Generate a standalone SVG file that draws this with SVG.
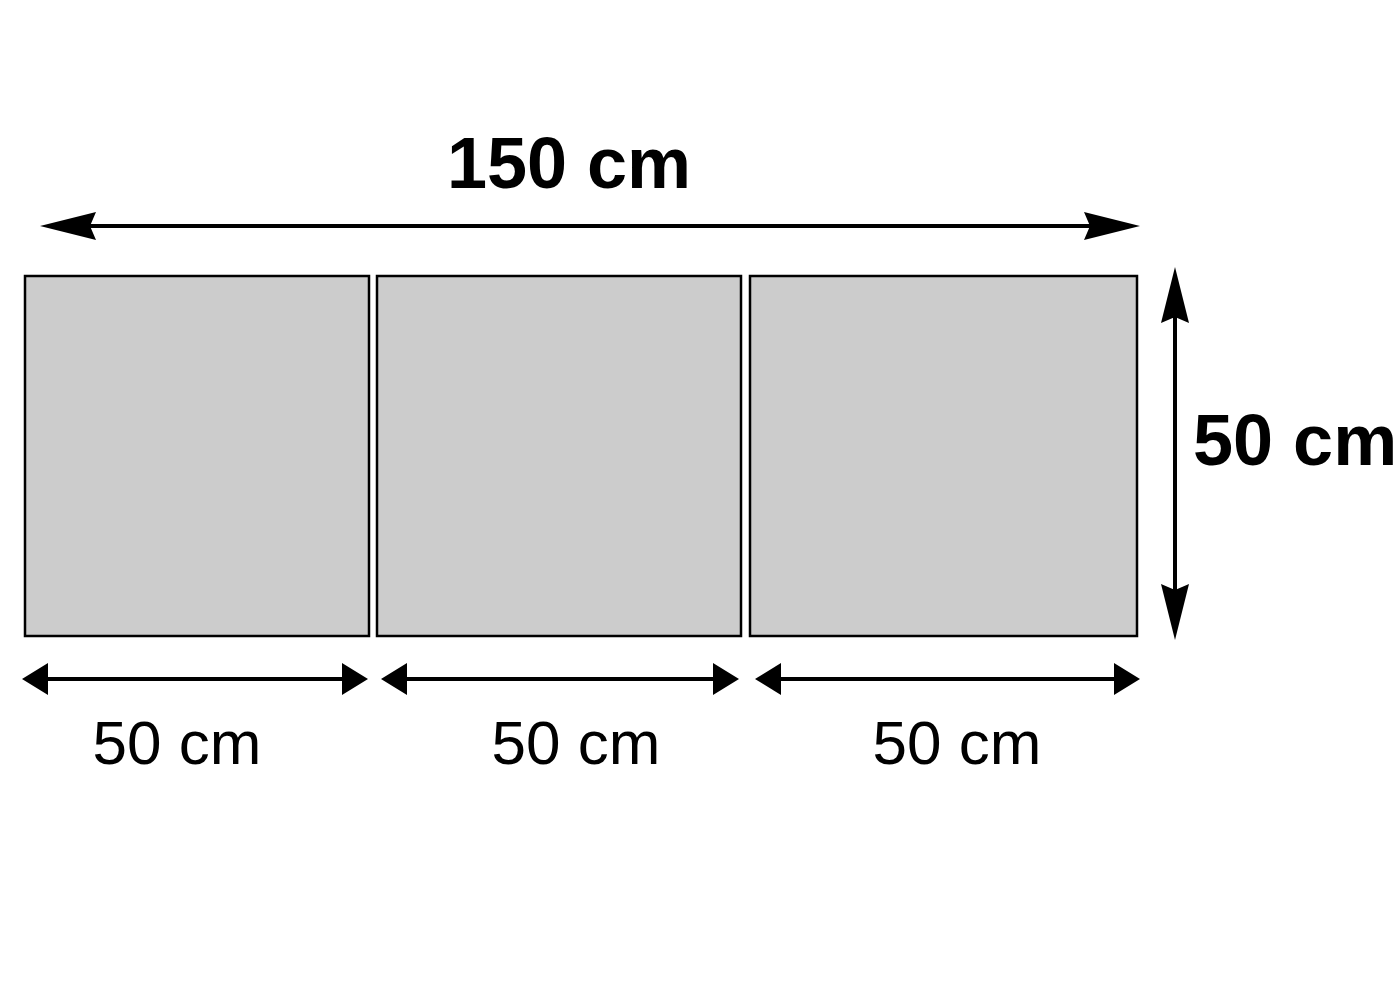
<svg xmlns="http://www.w3.org/2000/svg" width="1400" height="1000" viewBox="0 0 1400 1000">
  <style>
    .panel { fill: #cccccc; stroke: #000000; stroke-width: 2.5; }
    .dim { stroke: #000000; stroke-width: 4; fill: none; }
    .long { marker-start: url(#headLong); marker-end: url(#headLong); }
    .short { marker-start: url(#headShort); marker-end: url(#headShort); }
    .lblBold { font-family: "Liberation Sans", Arial, sans-serif; font-weight: bold; font-size: 72px; fill: #000000; }
    .lbl { font-family: "Liberation Sans", Arial, sans-serif; font-size: 62px; fill: #000000; }
  </style>
  <defs>
    <marker id="headLong" viewBox="0 0 56 28" refX="36" refY="14" markerWidth="56" markerHeight="28" markerUnits="userSpaceOnUse" orient="auto-start-reverse">
      <path d="M0,0 L56,14 L0,28 L6,14 Z" fill="#000000"/>
    </marker>
    <marker id="headShort" viewBox="0 0 26 32" refX="16" refY="16" markerWidth="26" markerHeight="32" markerUnits="userSpaceOnUse" orient="auto-start-reverse">
      <path d="M0,0 L26,16 L0,32 Z" fill="#000000"/>
    </marker>
  </defs>
  <rect width="1400" height="1000" fill="#ffffff"/>

  <g id="panel1"><rect class="panel" x="25" y="276" width="344" height="360"/></g>
  <g id="panel2"><rect class="panel" x="377" y="276" width="364" height="360"/></g>
  <g id="panel3"><rect class="panel" x="750" y="276" width="387" height="360"/></g>

  <g id="connectors">
    <line class="dim long" x1="60" y1="226" x2="1120" y2="226"/>
    <line class="dim long" x1="1175" y1="287" x2="1175" y2="620"/>
    <line class="dim short" x1="32" y1="679" x2="358" y2="679"/>
    <line class="dim short" x1="391" y1="679" x2="729" y2="679"/>
    <line class="dim short" x1="765" y1="679" x2="1130" y2="679"/>
  </g>

  <g id="labels">
    <text class="lblBold" x="569" y="188" text-anchor="middle">150 cm</text>
    <text class="lblBold" x="1193" y="465">50 cm</text>
    <text class="lbl" x="177" y="764" text-anchor="middle">50 cm</text>
    <text class="lbl" x="576" y="764" text-anchor="middle">50 cm</text>
    <text class="lbl" x="957" y="764" text-anchor="middle">50 cm</text>
  </g>
</svg>
